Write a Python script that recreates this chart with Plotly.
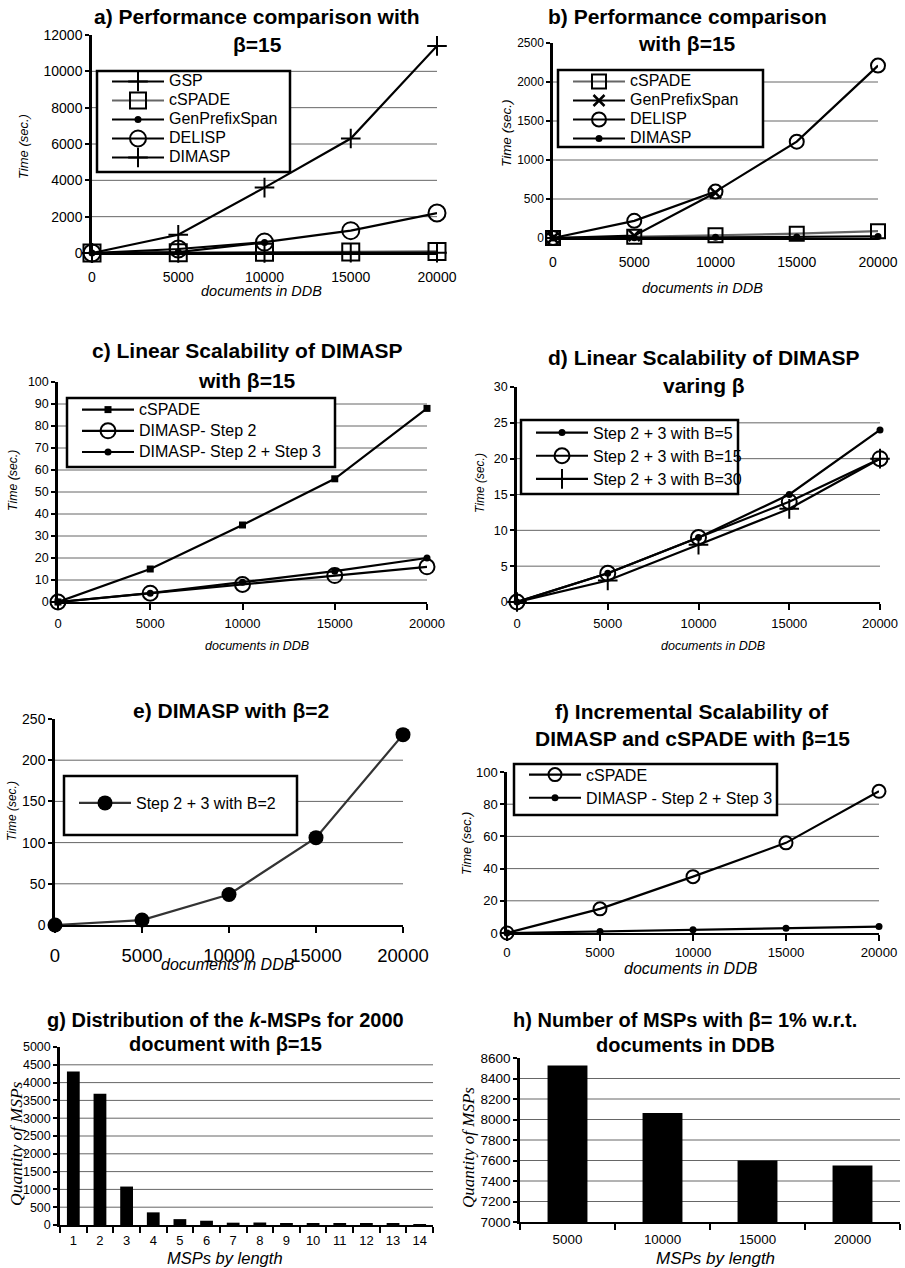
import plotly.graph_objects as go

# ---------------- data ----------------
docs = [0, 5000, 10000, 15000, 20000]

# a) Performance comparison with beta=15
a_gsp = [0, 1000, 3600, 6300, 11400]
a_cspade = [0, 15, 35, 56, 88]
a_genprefixspan = [0, 50, 580, None, None]
a_delisp = [0, 220, 600, 1230, 2200]
a_dimasp = [0, 4, 9, 14, 20]

# b) Performance comparison with beta=15 (without GSP)
b_cspade = [0, 15, 35, 56, 88]
b_genprefixspan = [0, 30, 580, None, None]
b_delisp = [0, 220, 595, 1235, 2210]
b_dimasp = [0, 4, 9, 14, 20]

# c) Linear scalability of DIMASP with beta=15
c_cspade = [0, 15, 35, 56, 88]
c_step2 = [0, 4, 8, 12, 16]
c_step23 = [0, 4, 9, 14, 20]

# d) Linear scalability of DIMASP varying beta
d_b5 = [0, 4, 9, 15, 24]
d_b15 = [0, 4, 9, 14, 20]
d_b30 = [0, 3, 8, 13, 20]

# e) DIMASP with beta=2
e_b2 = [0, 6, 37, 106, 231]

# f) Incremental scalability
f_cspade = [0, 15, 35, 56, 88]
f_dimasp = [0, 1, 2, 3, 4]

# g) Distribution of the k-MSPs
g_lengths = [str(i) for i in range(1, 15)]
g_counts = [4310, 3690, 1080, 355, 165, 120, 65, 70, 55, 55, 45, 40, 30, 25]

# h) Number of MSPs w.r.t. documents in DDB
h_docs = ["5000", "10000", "15000", "20000"]
h_counts = [8528, 8064, 7601, 7552]

# ---------------- helpers ----------------
W, H = 905, 1268
SANS = "Arial, 'Liberation Sans', Helvetica, sans-serif"
SERIF = "'Times New Roman', 'Liberation Serif', serif"
GRID = "#666666"
TITLE = 21


def px(x):
    return x / W


def py(y):
    return 1 - y / H


fig = go.Figure()
shapes = []
annotations = []


def ax_names(i):
    s = "" if i == 1 else str(i)
    return "x" + s, "y" + s, "xaxis" + s, "yaxis" + s, "legend" + s


def add_line(i, name, xs, ys, symbol, size, color="black", lw=2.2,
             mlw=2, mcolor="black", lfont=16):
    xa, ya, _, _, lg = ax_names(i)
    fig.add_trace(go.Scatter(
        x=xs, y=ys, name='<span style="font-size:%gpx">%s</span>' % (lfont, name),
        mode="lines+markers",
        xaxis=xa, yaxis=ya, legend=lg,
        line=dict(color=color, width=lw),
        marker=dict(symbol=symbol, size=size, color=mcolor,
                    line=dict(color="black", width=mlw)),
        cliponaxis=False,
    ))


def set_axes(i, box, xr, yr, ydtick, xfont, yfont, xstand, xticks="",
             xtype="linear", ylw=2.5):
    xa, ya, xk, yk, _ = ax_names(i)
    x0, y0, x1, y1 = box  # pixel box: left, top, right, bottom
    xd = dict(domain=[px(x0), px(x1)], anchor=ya, showgrid=False,
              zeroline=False, showline=True, linecolor="black", linewidth=2,
              ticks=xticks, ticklen=6, tickwidth=2, tickcolor="black",
              tickfont=dict(family=SANS, size=xfont, color="black"),
              ticklabelstandoff=xstand, type=xtype, fixedrange=True,
              automargin=False)
    if xtype == "linear":
        xd.update(range=xr, tickvals=docs, tickformat="d")
    else:
        xd.update(tickson="boundaries")
    yd = dict(domain=[py(y1), py(y0)], anchor=xa, range=yr, dtick=ydtick,
              tickformat="d", showgrid=False, zeroline=False,
              showline=True, linecolor="black", linewidth=ylw,
              ticks="outside", ticklen=4, tickwidth=1.5, tickcolor="black",
              tickfont=dict(family=SANS, size=yfont, color="black"),
              fixedrange=True, automargin=False)
    fig.layout[xk] = xd
    fig.layout[yk] = yd
    # horizontal gridlines at every tick except the bottom and top ones
    v = yr[0] + ydtick
    while v < yr[1] - 1e-9:
        shapes.append(dict(type="line", xref=xa + " domain", yref=ya,
                           x0=0, x1=1, y0=v, y1=v, layer="below",
                           line=dict(color=GRID, width=1)))
        v += ydtick


def text(x, y, s, size, bold=False, italic=False, family=SANS, angle=0):
    if bold:
        s = "<b>" + s + "</b>"
    if italic:
        s = "<i>" + s + "</i>"
    annotations.append(dict(
        x=px(x), y=py(y), xref="paper", yref="paper", text=s,
        showarrow=False, xanchor="center", yanchor="middle",
        textangle=angle, font=dict(family=family, size=size, color="black")))


def legend_box(i, box, lx, ly, ifont):
    x0, y0, x1, y1 = box
    shapes.append(dict(type="rect", xref="paper", yref="paper",
                       x0=px(x0), x1=px(x1), y0=py(y1), y1=py(y0),
                       fillcolor="white", line=dict(color="black", width=2.5),
                       layer="above"))
    _, _, _, _, lg = ax_names(i)
    fig.layout[lg] = dict(x=px(lx), y=py(ly), xanchor="left",
                          yanchor="top", bgcolor="rgba(0,0,0,0)",
                          borderwidth=0, tracegroupgap=0, itemwidth=52,
                          font=dict(family=SANS, size=ifont, color="black"))


# ---------------- panel a ----------------
add_line(1, "GSP", docs, a_gsp, "cross-thin", 14, mlw=2)
add_line(1, "cSPADE", docs, a_cspade, "square-open", 17, color="#666666")
add_line(1, "GenPrefixSpan", docs, a_genprefixspan, "circle", 7, mlw=0)
add_line(1, "DELISP", docs, a_delisp, "circle-open", 17)
add_line(1, "DIMASP", docs, a_dimasp, "cross-thin", 14, mlw=2)
set_axes(1, (92, 35, 437, 253), [0, 20000], [0, 12000], 2000, 14, 14, 10)
legend_box(1, (97, 71, 290, 172), 107, 67, 12)
text(257, 16, "a) Performance comparison with", TITLE, bold=True)
text(257, 44, "β=15", TITLE, bold=True)
text(261, 291, "documents in DDB", 14.5, italic=True)
text(24, 147, "Time (sec.)", 13, italic=True, angle=-90)

# ---------------- panel b ----------------
add_line(2, "cSPADE", docs, b_cspade, "square-open", 14, color="#666666")
add_line(2, "GenPrefixSpan", docs, b_genprefixspan, "x-thin", 11, mlw=2.5)
add_line(2, "DELISP", docs, b_delisp, "circle-open", 14)
add_line(2, "DIMASP", docs, b_dimasp, "circle", 7, mlw=0)
set_axes(2, (553, 43, 878, 238), [0, 20000], [0, 2500], 500, 14, 12, 10)
legend_box(2, (558, 70, 763, 147), 568, 67, 12)
text(687, 16, "b) Performance comparison", TITLE, bold=True)
text(687, 43, "with β=15", TITLE, bold=True)
text(702, 288, "documents in DDB", 14.5, italic=True)
text(506, 134, "Time (sec.)", 13.5, italic=True, angle=-90)

# ---------------- panel c ----------------
add_line(3, "cSPADE", docs, c_cspade, "square", 7, mlw=0)
add_line(3, "DIMASP- Step 2", docs, c_step2, "circle-open", 15)
add_line(3, "DIMASP- Step 2 + Step 3", docs, c_step23, "circle", 7, mlw=0)
set_axes(3, (58, 382, 427, 602), [0, 20000], [0, 100], 10, 13, 12.5, 2,
         xticks="outside")
legend_box(3, (67, 398, 335, 467), 77, 394, 14)
text(247, 350, "c) Linear Scalability of DIMASP", TITLE, bold=True)
text(247, 380, "with β=15", TITLE, bold=True)
text(257, 646, "documents in DDB", 12.5, italic=True)
text(13, 481, "Time (sec.)", 12.3, italic=True, angle=-90)

# ---------------- panel d ----------------
add_line(4, "Step 2 + 3 with B=5", docs, d_b5, "circle", 7, mlw=0)
add_line(4, "Step 2 + 3 with B=15", docs, d_b15, "circle-open", 15)
add_line(4, "Step 2 + 3 with B=30", docs, d_b30, "cross-thin", 14, mlw=2)
set_axes(4, (517, 387, 880, 602), [0, 20000], [0, 30], 5, 13, 12.5, 2,
         xticks="outside")
legend_box(4, (521, 420, 738, 494), 531, 416, 15.5)
text(704, 357, "d) Linear Scalability of DIMASP", TITLE, bold=True)
text(704, 385, "varing β", TITLE, bold=True)
text(713, 646, "documents in DDB", 12.5, italic=True)
text(480, 483, "Time (sec.)", 12, italic=True, angle=-90)

# ---------------- panel e ----------------
add_line(5, "Step 2 + 3 with B=2", docs, e_b2, "circle", 15, color="#333333",
         mlw=0)
set_axes(5, (55, 719, 403, 925), [0, 20000], [0, 250], 50, 18.5, 14, 7,
         xticks="outside")
legend_box(5, (64, 776, 297, 835), 74, 786, 16)
text(231, 710, "e) DIMASP with β=2", TITLE, bold=True)
text(228, 964, "documents in DDB", 16, italic=True)
text(12, 811, "Time (sec.)", 12, italic=True, angle=-90)

# ---------------- panel f ----------------
add_line(6, "cSPADE", docs, f_cspade, "circle-open", 13)
add_line(6, "DIMASP - Step 2 + Step 3", docs, f_dimasp, "circle", 7, mlw=0)
set_axes(6, (507, 772, 879, 933), [0, 20000], [0, 100], 20, 13.2, 13, 0,
         xticks="outside")
legend_box(6, (514, 764, 777, 815), 524, 758, 15.5)
text(692, 711, "f) Incremental Scalability of", TITLE, bold=True)
text(692, 738, "DIMASP and cSPADE with β=15", TITLE, bold=True)
text(691, 968, "documents in DDB", 16, italic=True)
text(467, 843, "Time (sec.)", 12.7, italic=True, angle=-90)

# ---------------- panel g ----------------
fig.add_trace(go.Bar(x=g_lengths, y=g_counts, xaxis="x7", yaxis="y7",
                     marker=dict(color="black", line=dict(width=0)),
                     width=0.48, showlegend=False))
set_axes(7, (60, 1047, 433, 1225), None, [0, 5000], 500, 13, 12.5, 2,
         xticks="outside", xtype="category")
text(225, 1020, "g) Distribution of the <i>k</i>-MSPs for 2000", 20, bold=True)
text(225, 1044, "document with β=15", 20, bold=True)
text(225, 1258, "MSPs by length", 16.5, italic=True)
text(16, 1144, "Quantity of MSPs", 17.5, italic=True, family=SERIF, angle=-90)

# ---------------- panel h ----------------
fig.add_trace(go.Bar(x=h_docs, y=h_counts, xaxis="x8", yaxis="y8",
                     marker=dict(color="black", line=dict(width=0)),
                     width=0.42, showlegend=False))
set_axes(8, (520, 1058, 900, 1222), None, [7000, 8600], 200, 13.4, 13.5, 4,
         xticks="outside", xtype="category")
text(685, 1020, "h) Number of MSPs with β= 1% w.r.t.", 20, bold=True)
text(685, 1045, "documents in DDB", 20, bold=True)
text(715, 1258, "MSPs by length", 17, italic=True)
text(468, 1147, "Quantity of MSPs", 17, italic=True, family=SERIF, angle=-90)

fig.update_layout(
    width=W, height=H,
    margin=dict(l=0, r=0, t=0, b=0, pad=0, autoexpand=False),
    paper_bgcolor="white", plot_bgcolor="white",
    font=dict(family=SANS, color="black"),
    annotations=annotations, shapes=shapes,
)

fig.write_html(
    "out.html",
    config={"displayModeBar": False},
    post_script="document.body.style.margin='0px';"
                "document.body.style.overflow='hidden';",
)
